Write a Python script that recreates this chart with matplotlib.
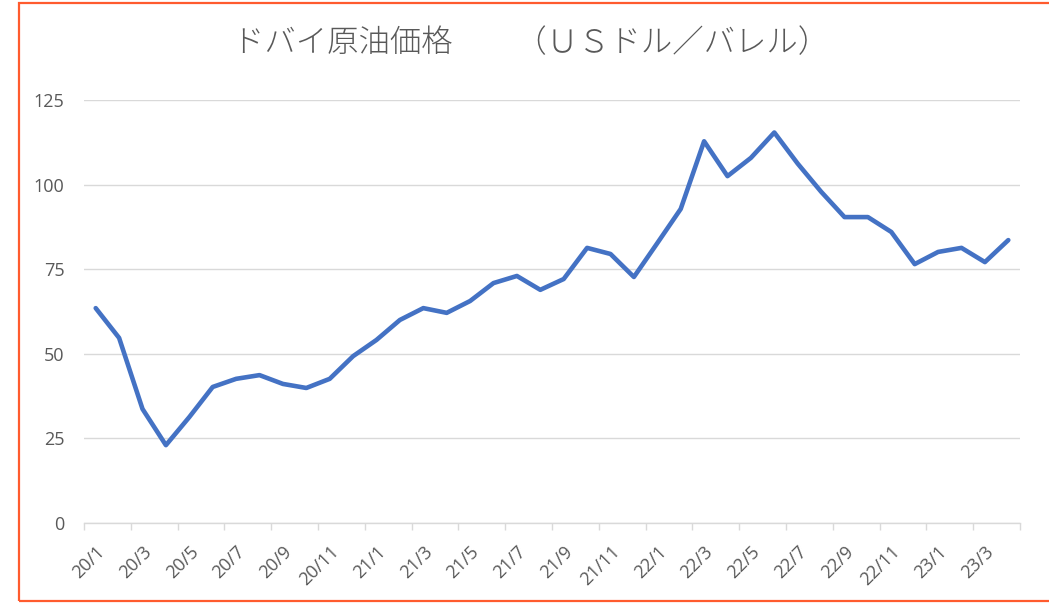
import matplotlib
matplotlib.use("Agg")
import matplotlib.pyplot as plt
from matplotlib.patches import Rectangle

plt.rcParams['font.family'] = ['Noto Sans CJK JP', 'DejaVu Sans']

months = [f"{y}/{m}" for y in (20, 21, 22) for m in range(1, 13)] + ["23/1", "23/2", "23/3", "23/4"]
prices = [63.5, 54.7, 33.7, 23.0, 31.3, 40.2, 42.6, 43.7, 41.1, 39.9, 42.6, 49.3,
          54.1, 60.0, 63.5, 62.1, 65.6, 70.9, 73.0, 68.9, 72.1, 81.3, 79.5, 72.7,
          82.7, 92.8, 112.8, 102.5, 107.9, 115.4, 106.2, 97.9, 90.4, 90.4, 86.0, 76.5,
          80.1, 81.3, 77.1, 83.6]
yticks = [0, 25, 50, 75, 100, 125]
title = "ドバイ原油価格　　（ＵＳドル／バレル）"

W, H = 1049, 603
fig = plt.figure(figsize=(W / 100, H / 100), dpi=100)
ax = fig.add_axes([84 / W, 1 - 523 / H, (1020 - 84) / W, (523 - 100) / H])

x = list(range(len(prices)))
ax.plot(x, prices, color="#4472C4", linewidth=3.3, solid_joinstyle="round",
        solid_capstyle="round", zorder=3)

ax.set_xlim(-0.5, len(prices) - 0.5)
ax.set_ylim(0, 125)
ax.set_yticks(yticks)
ax.set_yticklabels([str(v) for v in yticks])
ax.yaxis.grid(True, color="#d9d9d9", linewidth=1.0)
ax.set_axisbelow(True)

# tick marks at category boundaries, labels at every other category center
bounds = [i - 0.5 for i in range(0, len(prices) + 1, 2)]
ax.set_xticks(bounds)
ax.set_xticklabels([])
ax.tick_params(axis="x", which="major", length=5, color="#d9d9d9", width=1)
ax.set_xticks(x[::2], minor=True)
ax.set_xticklabels(months[::2], minor=True, rotation=45, ha="right", va="top",
                   rotation_mode="anchor", fontsize=13, color="#595959",
                   family=["Open Sans", "DejaVu Sans"])
ax.tick_params(axis="x", which="minor", length=0, pad=14)
ax.tick_params(axis="y", length=0, pad=14, labelsize=13, labelcolor="#595959")
for lab in ax.get_yticklabels():
    lab.set_family(["Open Sans", "DejaVu Sans"])

for s in ("top", "right", "left"):
    ax.spines[s].set_visible(False)
ax.spines["bottom"].set_color("#d9d9d9")
ax.spines["bottom"].set_linewidth(1.0)

fig.text(531 / W, 1 - 43 / H, title, ha="center", va="center", fontsize=22.6,
         color="#595959", fontweight="light")

fig.patches.append(Rectangle((18.5 / W, 2.5 / H), (W + 10 - 18.5) / W, (600.5 - 2.5) / H,
                             transform=fig.transFigure, fill=False,
                             edgecolor="#FF5B2E", linewidth=1.6, zorder=10))

fig.savefig("out.png", dpi=100)
